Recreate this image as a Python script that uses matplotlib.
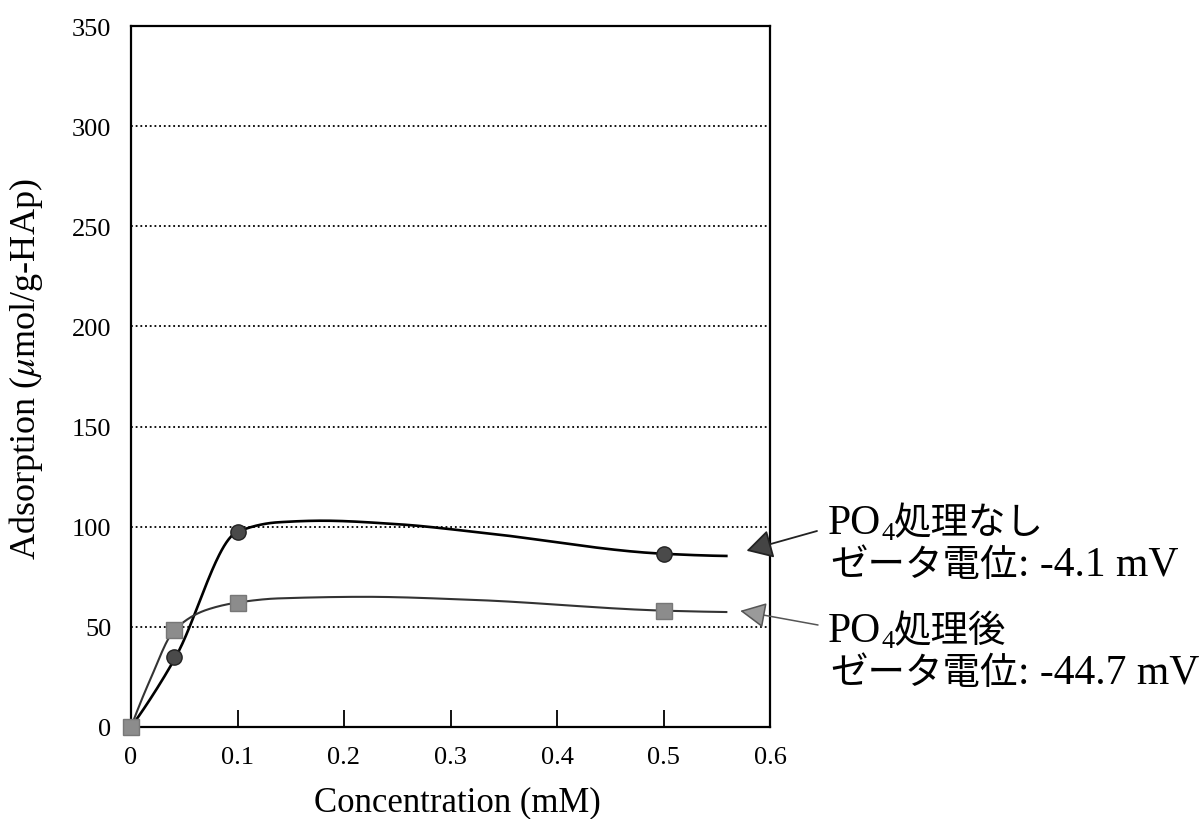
import numpy as np
import matplotlib
matplotlib.use("Agg")
import matplotlib.pyplot as plt

# ---------------- data ----------------
conc = [0.0, 0.04, 0.1, 0.5]
ads_untreated = [0.0, 35.0, 97.5, 86.5]      # circles (PO4処理なし)
ads_treated = [0.0, 48.5, 62.0, 58.0]        # squares (PO4処理後)

# smooth-curve points
curve_untreated_x = [0.0, 0.0175, 0.042, 0.1, 0.138, 0.18, 0.249, 0.33, 0.5, 0.559]
curve_untreated_y = [0.0, 13.5, 35.0, 97.5, 102.2, 103.0, 101.3, 97.0, 86.5, 85.4]
curve_treated_x = [0.0, 0.0175, 0.041, 0.071, 0.102, 0.138, 0.22, 0.32, 0.5, 0.559]
curve_treated_y = [0.0, 23.0, 48.5, 58.5, 62.3, 64.2, 65.0, 63.5, 58.1, 57.4]

xticks = [0, 0.1, 0.2, 0.3, 0.4, 0.5, 0.6]
xticklabels = ["0", "0.1", "0.2", "0.3", "0.4", "0.5", "0.6"]
yticks = [0, 50, 100, 150, 200, 250, 300, 350]
yticklabels = ["0", "50", "100", "150", "200", "250", "300", "350"]
grid_levels = [50, 100, 150, 200, 250, 300]

# arrow heads (data coords)
arrow_untreated = (0.578, 88.0)
arrow_treated = (0.572, 58.0)


def pchip(xk, yk, n=500):
    """Monotone piecewise cubic Hermite (Fritsch-Carlson) through the knots."""
    xk = np.asarray(xk, float)
    yk = np.asarray(yk, float)
    h = np.diff(xk)
    delta = np.diff(yk) / h
    m = len(xk)
    d = np.zeros(m)
    for k in range(1, m - 1):
        if delta[k - 1] * delta[k] <= 0:
            d[k] = 0.0
        else:
            w1 = 2 * h[k] + h[k - 1]
            w2 = h[k] + 2 * h[k - 1]
            d[k] = (w1 + w2) / (w1 / delta[k - 1] + w2 / delta[k])
    d[0] = ((2 * h[0] + h[1]) * delta[0] - h[0] * delta[1]) / (h[0] + h[1])
    if np.sign(d[0]) != np.sign(delta[0]):
        d[0] = 0
    d[-1] = ((2 * h[-1] + h[-2]) * delta[-1] - h[-1] * delta[-2]) / (h[-1] + h[-2])
    if np.sign(d[-1]) != np.sign(delta[-1]):
        d[-1] = 0
    xs = np.linspace(xk[0], xk[-1], n)
    idx = np.clip(np.searchsorted(xk, xs) - 1, 0, m - 2)
    t = (xs - xk[idx]) / h[idx]
    h00 = 2 * t ** 3 - 3 * t ** 2 + 1
    h10 = t ** 3 - 2 * t ** 2 + t
    h01 = -2 * t ** 3 + 3 * t ** 2
    h11 = t ** 3 - t ** 2
    ys = (h00 * yk[idx] + h10 * h[idx] * d[idx] + h01 * yk[idx + 1]
          + h11 * h[idx] * d[idx + 1])
    return xs, ys


plt.rcParams["mathtext.fontset"] = "stix"
SERIF = ["Liberation Serif", "DejaVu Serif"]
CJK = ["Noto Sans CJK JP", "DejaVu Sans"]

W, H = 1204, 820
fig = plt.figure(figsize=(W / 100, H / 100), dpi=100)
ax = fig.add_axes([131 / W, 1 - 728 / H, (770 - 131) / W, (728 - 27) / H])

ax.set_xlim(0, 0.6)
ax.set_ylim(0, 350)

for g in grid_levels:
    ax.axhline(g, color="black", lw=1.3, ls=(0, (1, 1.6)), zorder=1)

xs, ys = pchip(curve_untreated_x, curve_untreated_y)
ax.plot(xs, ys, color="black", lw=1.9, zorder=3)
xs, ys = pchip(curve_treated_x, curve_treated_y)
ax.plot(xs, ys, color="#333333", lw=1.5, zorder=3)

ax.plot(conc, ads_untreated, ls="none", marker="o", ms=11, mfc="#4a4a4a",
        mec="#222222", mew=1, zorder=4, clip_on=False)
ax.plot(conc, ads_treated, ls="none", marker="s", ms=11.5, mfc="#8c8c8c",
        mec="#777777", mew=1, zorder=5, clip_on=False)

for s in ax.spines.values():
    s.set_linewidth(1.6)

ax.set_xticks(xticks)
ax.set_xticklabels(xticklabels, family=SERIF, fontsize=19)
ax.set_yticks(yticks)
ax.set_yticklabels(yticklabels, family=SERIF, fontsize=19)
ax.tick_params(axis="x", direction="in", length=12, width=1.3, pad=14)
ax.tick_params(axis="y", length=0, pad=14)

ax.set_xlabel("Concentration (mM)", family=SERIF, fontsize=25)
ax.xaxis.set_label_coords(0.51, -0.083)
ax.set_ylabel(r"Adsorption ($\mu$mol/g-HAp)", family=SERIF, fontsize=26)
ax.yaxis.set_label_coords(-0.135, 0.512)

# annotation arrows
ax.annotate("", xy=arrow_untreated, xycoords="data",
            xytext=(817, H - 532), textcoords="figure pixels",
            arrowprops=dict(arrowstyle="-|>,head_length=0.8,head_width=0.45",
                            mutation_scale=20, lw=1.3, fc="#444444", ec="#222222",
                            shrinkA=0, shrinkB=0),
            annotation_clip=False)
ax.annotate("", xy=arrow_treated, xycoords="data",
            xytext=(818, H - 626), textcoords="figure pixels",
            arrowprops=dict(arrowstyle="-|>,head_length=0.8,head_width=0.4",
                            mutation_scale=20, lw=1.1, fc="#9a9a9a", ec="#555555",
                            shrinkA=0, shrinkB=0),
            annotation_clip=False)

renderer = fig.canvas.get_renderer()


def rich_text(x_px, base_px, pieces):
    x = x_px
    for s, fam, size, dy in pieces:
        t = fig.text(x / W, 1 - (base_px + dy) / H, s, family=fam, fontsize=size,
                     ha="left", va="baseline", color="black")
        bb = t.get_window_extent(renderer)
        x = bb.x1


rich_text(828, 534, [("PO", SERIF, 30, 0), ("4", SERIF, 19, 6), ("処理なし", CJK, 27, 0)])
rich_text(830, 576, [("ゼータ電位", CJK, 27, 0), (": -4.1 mV", SERIF, 30, 0)])
rich_text(828, 642, [("PO", SERIF, 30, 0), ("4", SERIF, 19, 6), ("処理後", CJK, 27, 0)])
rich_text(830, 684, [("ゼータ電位", CJK, 27, 0), (": -44.7 mV", SERIF, 30, 0)])

fig.savefig("out.png", dpi=100)
